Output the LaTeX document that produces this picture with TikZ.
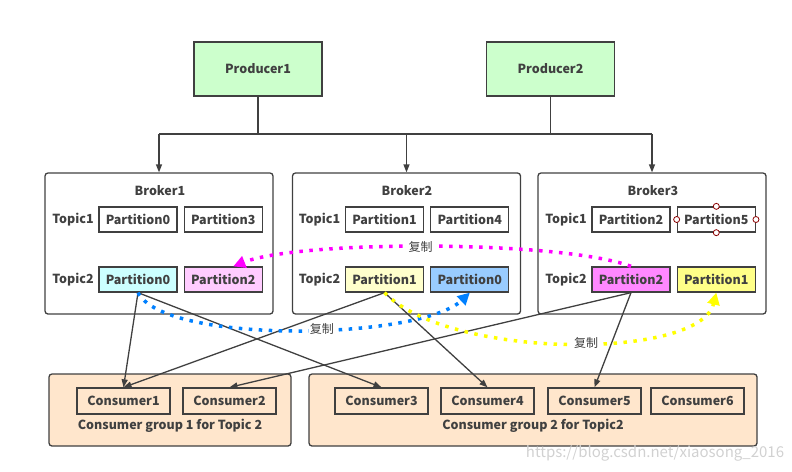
\documentclass[tikz,border=0pt]{standalone}
\usepackage{fontspec}
\setmainfont{Noto Sans CJK SC}
\usepackage{tikz}
\usetikzlibrary{arrows,arrows.meta,shapes,positioning}
\usepackage{xcolor}
\definecolor{trait}{HTML}{404040}
\definecolor{vertprod}{HTML}{CCFFCC}
\definecolor{cyanpart}{HTML}{CCFFFF}
\definecolor{rosepart}{HTML}{FFCCFF}
\definecolor{bleupart}{HTML}{99CCFF}
\definecolor{jaunepale}{HTML}{FFFFCC}
\definecolor{magpart}{HTML}{FF88FF}
\definecolor{jaunepart}{HTML}{FFFF88}
\definecolor{peche}{HTML}{FFE6CC}
\definecolor{bleudot}{HTML}{0080FF}
\definecolor{magdot}{HTML}{FF00FF}
\definecolor{jaunedot}{HTML}{FFFF00}
\tikzset{
basenode/.style = {align=center, inner sep=0pt, text centered, text=trait,
font=\fontsize{12.5}{14}\selectfont\bfseries},
prod_n/.style = {basenode, rectangle, draw=trait, fill=vertprod, minimum width=128pt, minimum height=54pt},% producteur
broker_n/.style = {rectangle, draw=trait, rounded corners=3pt, minimum width=228pt, minimum height=141pt},% courtier
part_n/.style = {basenode, rectangle, draw=trait, minimum width=78pt, minimum height=25pt},% partition
cons_n/.style = {basenode, rectangle, draw=trait, minimum width=93pt, minimum height=26pt},% consommateur
group_n/.style = {rectangle, draw=trait, fill=peche, rounded corners=3pt, minimum height=72pt},% groupe
copy_n/.style = {basenode, font=\fontsize{12}{14}\selectfont, fill=white, inner sep=1pt},% etiquette copie
feed/.style = {draw=trait, -{Triangle[length=8pt,width=6pt]}},% lecture
repl/.style = {line width=3.5pt, dash pattern=on 3.5pt off 6.5pt, -{Triangle[length=12pt,width=12pt]}},% replication
handle/.style = {draw=red!55!black, fill=white, line width=0.8pt}% poignee
}

\begin{document}
\begin{tikzpicture}[x=1pt, y=-1pt, line width=1.3pt]
	\useasboundingbox (0,0) rectangle (792,471);
	% producteurs
	\node [prod_n] (p1) at (258,69) {Producer1};
	\node [prod_n] (p2) at (550.5,69) {Producer2};
	% courtiers
	\node [broker_n] (b1) at (159,243.5) {};
	\node [broker_n] (b2) at (406.5,243.5) {};
	\node [broker_n] (b3) at (652,243.5) {};
	\node [basenode] (b1n) at (160,191) {Broker1};
	\node [basenode] (b2n) at (407,191) {Broker2};
	\node [basenode] (b3n) at (653,191) {Broker3};
	% Broker1
	\node [part_n] (b1t1p0) at (138,219.5) {Partition0};
	\node [part_n, right=6pt of b1t1p0] (b1t1p3) {Partition3};
	\node [part_n, fill=cyanpart] (b1t2p0) at (138,279.5) {Partition0};
	\node [part_n, fill=rosepart, right=6pt of b1t2p0] (b1t2p2) {Partition2};
	\node [basenode, left=4pt of b1t1p0] (b1t1) {Topic1};
	\node [basenode, left=4pt of b1t2p0] (b1t2) {Topic2};
	% Broker2
	\node [part_n] (b2t1p1) at (384.5,219.5) {Partition1};
	\node [part_n, right=6pt of b2t1p1] (b2t1p4) {Partition4};
	\node [part_n, fill=jaunepale] (b2t2p1) at (384.5,279.5) {Partition1};
	\node [part_n, fill=bleupart, right=6pt of b2t2p1] (b2t2p0) {Partition0};
	\node [basenode, left=4pt of b2t1p1] (b2t1) {Topic1};
	\node [basenode, left=4pt of b2t2p1] (b2t2) {Topic2};
	% Broker3
	\node [part_n] (b3t1p2) at (631,219.5) {Partition2};
	\node [part_n, right=6pt of b3t1p2] (b3t1p5) {Partition5};
	\node [part_n, fill=magpart] (b3t2p2) at (631,279.5) {Partition2};
	\node [part_n, fill=jaunepart, right=6pt of b3t2p2] (b3t2p1) {Partition1};
	\node [basenode, left=4pt of b3t1p2] (b3t1) {Topic1};
	\node [basenode, left=4pt of b3t2p2] (b3t2) {Topic2};
	\foreach \a in {north,south,east,west}
		\draw [handle] (b3t1p5.\a) circle (3pt);
	% groupes de consommateurs
	\node [group_n, minimum width=242pt] (g1) at (170,410) {};
	\node [group_n, minimum width=448pt] (g2) at (533,410) {};
	\node [cons_n] (c1) at (123.5,401) {Consumer1};
	\node [cons_n] (c2) at (229.5,401) {Consumer2};
	\node [cons_n] (c3) at (381.5,401) {Consumer3};
	\node [cons_n] (c4) at (487.5,401) {Consumer4};
	\node [cons_n] (c5) at (594.5,401) {Consumer5};
	\node [cons_n] (c6) at (697.5,401) {Consumer6};
	\node [basenode] (g1n) at (170,426) {Consumer group 1 for Topic 2};
	\node [basenode] (g2n) at (533,426) {Consumer group 2 for Topic2};
	% bus des producteurs
	\coordinate (bus) at (406.5,134);
	\draw [trait] (p1.south) -- (p1.south |- bus);
	\draw [trait] (p2.south) -- (p2.south |- bus);
	\draw [trait] (b1.north |- bus) -- (b3.north |- bus);
	\draw [feed] (b1.north |- bus) -- (b1.north);
	\draw [feed] (b2.north |- bus) -- (b2.north);
	\draw [feed] (b3.north |- bus) -- (b3.north);
	% lectures
	\draw [feed] (b1t2p0.south) -- (c1.north);
	\draw [feed] (b1t2p0.south) -- (c3.north);
	\draw [feed] (b2t2p1.south) -- (c1.north);
	\draw [feed] (b2t2p1.south) -- (c4.north);
	\draw [feed] (b3t2p2.south) -- (c2.north);
	\draw [feed] (b3t2p2.south) -- (c5.north);
	% replications
	\draw [repl, magdot] (b3t2p2.north) .. controls (560,240) and (300,240) .. ([xshift=10pt]b1t2p2.north)
		node [copy_n, pos=0.52] (cp1) {复制};
	\draw [repl, bleudot] (b1t2p0.south) .. controls (165,345) and (420,340) .. (b2t2p0.south)
		node [copy_n, pos=0.56] (cp2) {复制};
	\draw [repl, jaunedot] (b2t2p1.south) .. controls (450,360) and (700,360) .. (b3t2p1.south)
		node [copy_n, pos=0.54] (cp3) {复制};
	\node [font=\fontsize{15}{17}\selectfont, text=black!18] (wm) at (655,453) {https://blog.csdn.net/xiaosong\_2016};
\end{tikzpicture}
\end{document}
